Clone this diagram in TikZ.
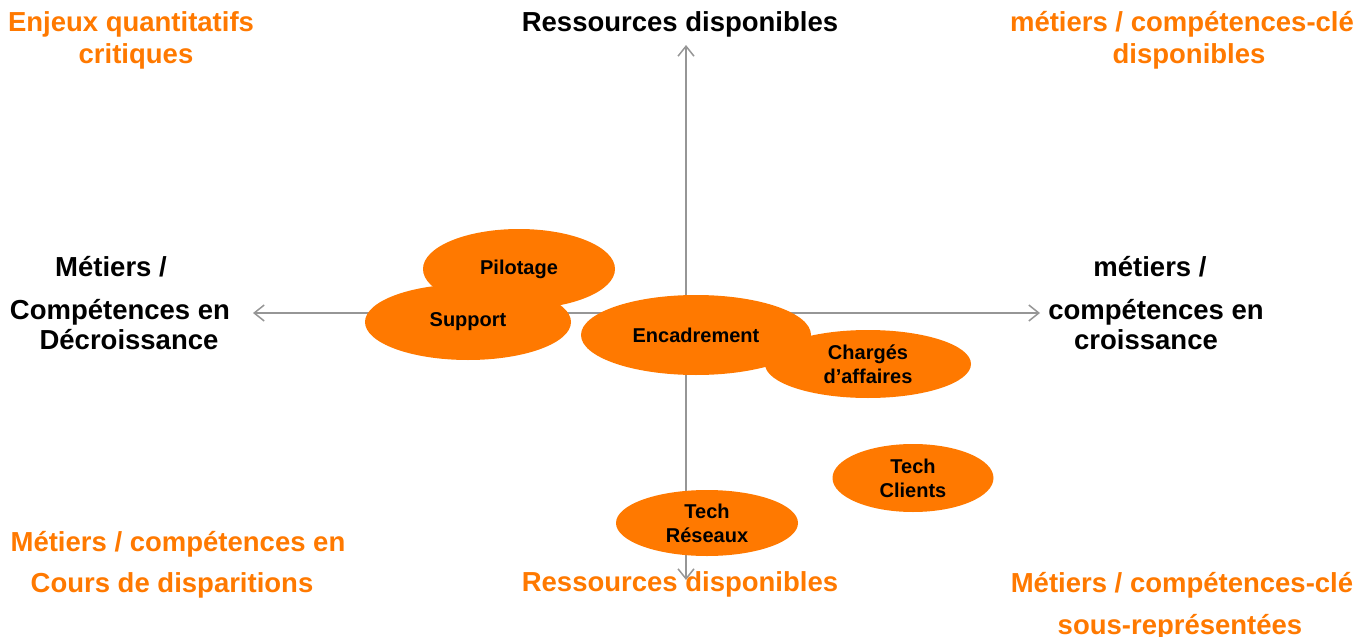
\documentclass[tikz,border=0pt]{standalone}
\usepackage{fontspec}
\setmainfont{Liberation Sans}
\usetikzlibrary{shapes.geometric,arrows.meta}
\definecolor{orng}{RGB}{255,121,0}
\definecolor{axgray}{RGB}{150,150,150}
\tikzset{
  biglbl/.style={font=\bfseries\fontsize{27.5}{32}\selectfont, inner sep=0pt, text height=0.72em, text depth=0pt, anchor=center, yshift=-6pt},
  orlbl/.style={biglbl, text=orng},
  bklbl/.style={biglbl, text=black},
  blob/.style={ellipse, fill=orng, inner sep=0pt, align=center, text=black,
    font=\bfseries\fontsize{20}{24}\selectfont},
  axis/.style={draw=axgray, line width=1.5pt, {Straight Barb[length=10pt,width=16pt]}-{Straight Barb[length=10pt,width=16pt]}}
}
\begin{document}
\begin{tikzpicture}[x=1pt,y=-1pt]
\useasboundingbox (0,0) rectangle (1361,637);
% axes
\coordinate (vt) at (686,45);
\coordinate (vb) at (686,580);
\coordinate (hl) at (253,313);
\coordinate (hr) at (1040,313);
\draw[axis] (vb) -- (vt);
\draw[axis] (hl) -- (hr);
% ellipses
\node[blob, minimum width=206pt, minimum height=76pt] (support) at (468,322) {Support};
\node[blob, minimum width=192pt, minimum height=80pt] (pilotage) at (519,269) {Pilotage};
\node[blob, minimum width=230pt, minimum height=80pt] (encadrement) at (696,335) {Encadrement};
\node[blob, minimum width=206pt, minimum height=68pt] (charges) at (868,364) {Chargés\\d’affaires};
\node[blob, minimum width=161pt, minimum height=68pt] (techcli) at (913,478) {Tech\\Clients};
\node[blob, minimum width=182pt, minimum height=66pt] (techres) at (707,523) {Tech\\Réseaux};
% top labels
\node[bklbl] (rtop) at (680,22) {Ressources disponibles};
\node[orlbl] (tl1) at (131,22) {Enjeux quantitatifs};
\node[orlbl] (tl2) at (136,54) {critiques};
\node[orlbl] (tr1) at (1182,22) {métiers / compétences-clé};
\node[orlbl] (tr2) at (1189,54) {disponibles};
% side labels
\node[bklbl] (l1) at (111,267) {Métiers /};
\node[bklbl] (l2) at (120,310) {Compétences en};
\node[bklbl] (l3) at (129,340) {Décroissance};
\node[bklbl] (r1) at (1150,267) {métiers /};
\node[bklbl] (r2) at (1156,310) {compétences en};
\node[bklbl] (r3) at (1146,340) {croissance};
% bottom labels
\node[orlbl] (bl1) at (178,542) {Métiers / compétences en};
\node[orlbl] (bl2) at (172,583) {Cours de disparitions};
\node[orlbl] (rbot) at (680,582) {Ressources disponibles};
\node[orlbl] (br1) at (1182,583) {Métiers / compétences-clé};
\node[orlbl] (br2) at (1180,625) {sous-représentées};
\end{tikzpicture}
\end{document}
